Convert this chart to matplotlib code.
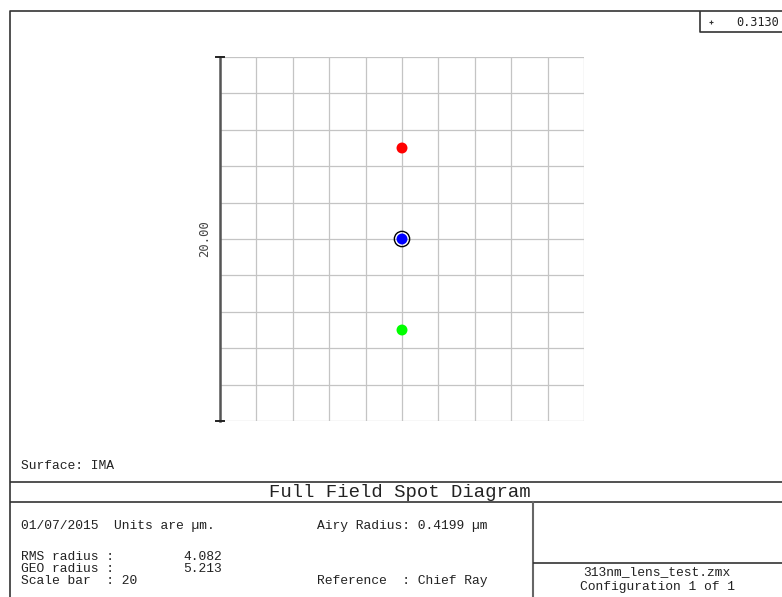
import matplotlib
matplotlib.use("Agg")
import matplotlib.pyplot as plt
from matplotlib.patches import Circle

# Spot centroids (µm, relative to chief ray) for each field
spot_x = [0.0, 0.0, 0.0]
spot_y = [5.0, 0.0, -5.0]
spot_colors = ["#ff0000", "#0000ff", "#00ff00"]

wavelengths = ["0.3130"]
scale_bar = 20.0          # µm across the plot box
grid_step = 2.0           # µm per grid cell
airy_radius = 0.4199      # µm

info_left = ["01/07/2015  Units are \u00b5m."]
rms_radius = "4.082"
geo_radius = "5.213"
airy_label = "Airy Radius: 0.4199 \u00b5m"
reference = "Reference  : Chief Ray"
lens_file = "313nm_lens_test.zmx"
config_label = "Configuration 1 of 1"
title = "Full Field Spot Diagram"
surface = "Surface: IMA"

W, H = 782, 597
fig = plt.figure(figsize=(W / 100, H / 100), dpi=100)

# full-figure canvas in pixel units for the frame and text block
bg = fig.add_axes([0, 0, 1, 1])
bg.set_xlim(0, W)
bg.set_ylim(H, 0)
bg.axis("off")

frame_kw = dict(color="#333333", lw=1.2, solid_capstyle="butt")
bg.plot([10, 10, W], [H, 11, 11], **frame_kw)
bg.plot([10, W], [482, 482], **frame_kw)
bg.plot([10, W], [502, 502], **frame_kw)
bg.plot([533, 533], [502, H], color="#666666", lw=1.5)
bg.plot([533, W], [563, 563], **frame_kw)
# wavelength legend box
bg.plot([700, 700, W], [11, 32, 32], **frame_kw)

mono = "Liberation Mono"
txt_kw = dict(family=mono, fontsize=9.4, color="#222222", va="baseline")
bg.text(21, 469, surface, **txt_kw)
bg.text(400, 497, title, family=mono, fontsize=13.6, color="#222222",
        ha="center", va="baseline")
bg.text(21, 529, info_left[0], **txt_kw)
bg.text(317, 529, airy_label, **txt_kw)
bg.text(21, 560, "RMS radius :", **txt_kw)
bg.text(222, 560, rms_radius, ha="right", **txt_kw)
bg.text(21, 572, "GEO radius :", **txt_kw)
bg.text(222, 572, geo_radius, ha="right", **txt_kw)
bg.text(21, 584, f"Scale bar  : {scale_bar:.0f}", **txt_kw)
bg.text(317, 584, reference, **txt_kw)
bg.text(657, 575, lens_file, ha="center", **txt_kw)
bg.text(657, 590, config_label, ha="center", **txt_kw)

for i, wl in enumerate(wavelengths):
    y = 22 + i * 14
    bg.plot([711], [y], marker="+", ms=3, mew=0.8, color="#333333")
    bg.text(779, y + 4, wl, family="DejaVu Sans Mono", fontsize=8.6,
            color="#222222", ha="right", va="baseline")

# spot diagram box: 364 px square
left, top, size = 220, 57, 364
ax = fig.add_axes([left / W, (H - top - size) / H, size / W, size / H])
half = scale_bar / 2
ticks = [-half + grid_step * k for k in range(int(scale_bar / grid_step) + 1)]
ax.set_xlim(-half, half)
ax.set_ylim(-half, half)
ax.set_xticks(ticks)
ax.set_yticks(ticks)
ax.grid(True, color="#c4c4c4", lw=0.9)
ax.tick_params(length=0, labelbottom=False, labelleft=False)
for s in ax.spines.values():
    s.set_visible(False)
ax.set_axisbelow(True)

# scale bar on the left edge
ax.plot([-half, -half], [-half, half], color="#555555", lw=1.8,
        clip_on=False, zorder=3)
for yy in (-half, half):
    ax.plot([-half - 0.24, -half + 0.24], [yy, yy], color="#222222", lw=1.4,
            clip_on=False, zorder=3)
ax.text(-half - 0.85, 0, f"{scale_bar:.2f}", rotation=90, ha="center",
        va="center", family="DejaVu Sans Mono", fontsize=8.8, color="#444444")

# Airy disk around the chief ray
ax.add_patch(Circle((0, 0), airy_radius, fill=False, ec="black", lw=1.0,
                    zorder=4))
ax.scatter(spot_x, spot_y, s=62, c=spot_colors, edgecolors="none", zorder=5)

fig.savefig("out.png", dpi=100)
